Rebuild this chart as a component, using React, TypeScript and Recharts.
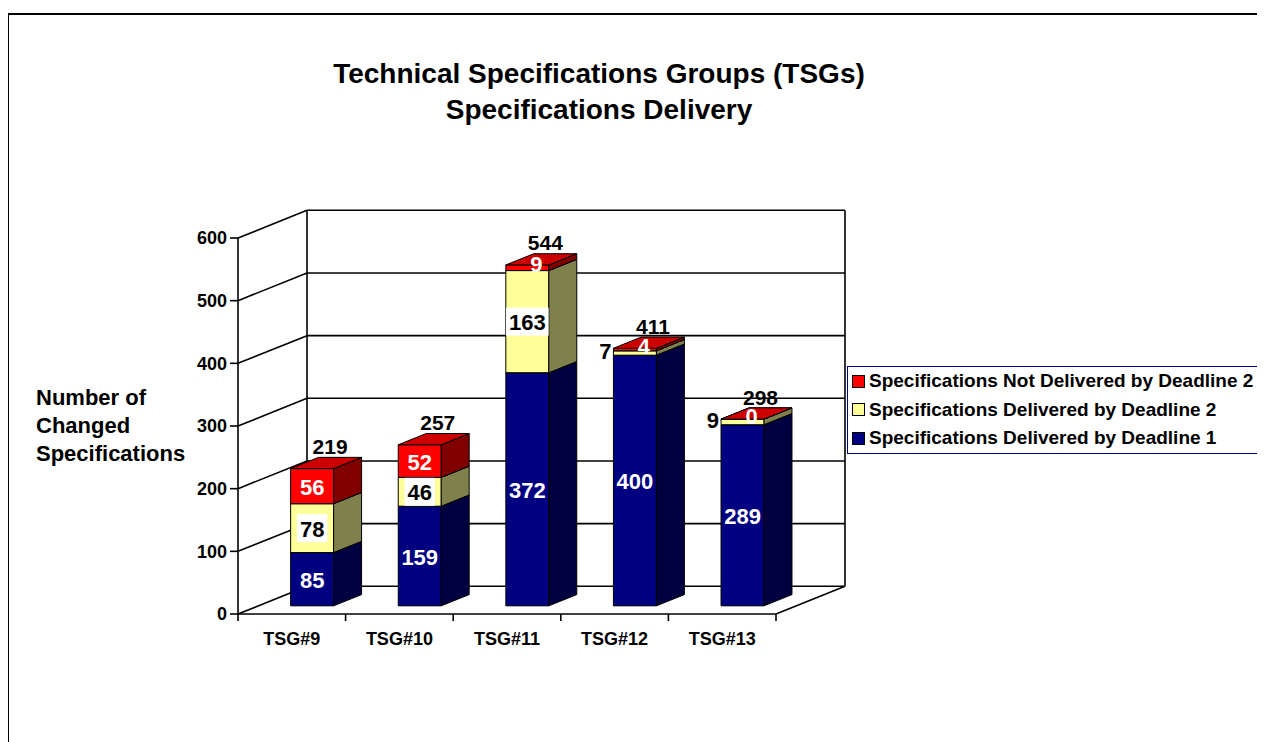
import { BarChart, Bar, XAxis, YAxis, CartesianGrid, Legend, LabelList, usePlotArea } from 'recharts';

const categories = ['TSG#9', 'TSG#10', 'TSG#11', 'TSG#12', 'TSG#13'];
const deliveredD1 = [85, 159, 372, 400, 289];
const deliveredD2 = [78, 46, 163, 7, 9];
const notDeliveredD2 = [56, 52, 9, 4, 0];
const yTicks = [0, 100, 200, 300, 400, 500, 600];

const names: Record<string, string> = {
  d1: 'Specifications Delivered by Deadline 1',
  d2: 'Specifications Delivered by Deadline 2',
  nd: 'Specifications Not Delivered by Deadline 2',
};
const legendOrder = ['nd', 'd2', 'd1'];

const colors: Record<string, { front: string; side: string; top: string; text: string }> = {
  d1: { front: '#000080', side: '#000040', top: '#00005c', text: '#fff' },
  d2: { front: '#ffff99', side: '#80804d', top: '#e0e080', text: '#000' },
  nd: { front: '#ff0000', side: '#800000', top: '#cc0000', text: '#fff' },
};

const values: Record<string, number[]> = { d1: deliveredD1, d2: deliveredD2, nd: notDeliveredD2 };

const data = categories.map((name, i) => ({
  name,
  d1: deliveredD1[i],
  d2: deliveredD2[i],
  nd: notDeliveredD2[i],
  total: deliveredD1[i] + deliveredD2[i] + notDeliveredD2[i],
}));

// fake 3D: the walls go back by WALL, bars sit between FRONT and FRONT+DEPTH of that
const WALL = { dx: 69, dy: -27.7 };
const FRONT = 0.295;
const DEPTH = 0.405;
const F = { x: WALL.dx * FRONT, y: WALL.dy * FRONT };
const D = { x: WALL.dx * DEPTH, y: WALL.dy * DEPTH };

const FONT = '"Liberation Sans", Arial, sans-serif';

function box3d(key: string) {
  const c = colors[key];
  return (props: any) => {
    const { x, y, width, height } = props;
    if (x == null || y == null || !isFinite(y)) return <g />;
    const fx = x + F.x;
    const fy = y + F.y;
    const h = Math.max(height || 0, 0);
    const side = `${fx + width},${fy} ${fx + width + D.x},${fy + D.y} ${fx + width + D.x},${fy + h + D.y} ${fx + width},${fy + h}`;
    const top = `${fx},${fy} ${fx + width},${fy} ${fx + width + D.x},${fy + D.y} ${fx + D.x},${fy + D.y}`;
    return (
      <g stroke="#000" strokeWidth={1} strokeLinejoin="round">
        <rect x={fx} y={fy} width={width} height={h} fill={c.front} />
        <polygon points={side} fill={c.side} />
        <polygon points={top} fill={c.top} />
      </g>
    );
  };
}

function rectOf(props: any) {
  const vb = props.viewBox || {};
  return {
    x: props.x ?? vb.x,
    y: props.y ?? vb.y,
    width: props.width ?? vb.width,
    height: props.height ?? vb.height,
  };
}

function segLabel(key: string) {
  const c = colors[key];
  return (props: any) => {
    const { index } = props;
    const { x, y, width, height } = rectOf(props);
    if (x == null || y == null) return null;
    const v = values[key][index];
    const cx = x + width / 2 + F.x;
    const cy = y + height / 2 + F.y;
    const txt = { fontSize: 22, fontWeight: 'bold', fontFamily: FONT } as const;
    if (height < 14) {
      if (key === 'd2') {
        return (
          <text x={x + F.x - 2} y={cy - 1} textAnchor="end" dominantBaseline="central" fill="#000" style={txt}>
            {v}
          </text>
        );
      }
      return (
        <text x={cx + 9} y={cy - 3} textAnchor="middle" dominantBaseline="central" fill={c.text} style={txt}>
          {v}
        </text>
      );
    }
    const bw = String(v).length * 12.2 + 6;
    return (
      <g>
        {key === 'd2' && <rect x={cx - bw / 2} y={cy - 14} width={bw} height={28} fill="#fff" />}
        <text x={cx} y={cy + 1} textAnchor="middle" dominantBaseline="central" fill={c.text} style={txt}>
          {v}
        </text>
      </g>
    );
  };
}

const totalLabel = (props: any) => {
  const { index } = props;
  const { x, y, width } = rectOf(props);
  if (x == null || y == null) return null;
  return (
    <text
      x={x + width / 2 + F.x + 18}
      y={y + F.y - 22}
      textAnchor="middle"
      dominantBaseline="central"
      fill="#000"
      style={{ fontSize: 21, fontWeight: 'bold', fontFamily: FONT }}
    >
      {data[index].total}
    </text>
  );
};

// one grid line: side wall diagonal + back wall line; first call also draws wall edges
function WallLine(props: any) {
  const { x1, x2, y1, index } = props;
  const area = usePlotArea();
  const bx1 = x1 + WALL.dx;
  const bx2 = x2 + WALL.dx;
  const by = y1 + WALL.dy;
  return (
    <g stroke="#000" strokeWidth={1.6} fill="none">
      <line x1={x1} y1={y1} x2={bx1} y2={by} />
      <line x1={bx1} y1={by} x2={bx2} y2={by} />
      {index === 0 && area && (
        <g>
          <line x1={area.x + WALL.dx} y1={area.y + WALL.dy} x2={area.x + WALL.dx} y2={area.y + area.height + WALL.dy} />
          <line
            x1={area.x + area.width + WALL.dx}
            y1={area.y + WALL.dy}
            x2={area.x + area.width + WALL.dx}
            y2={area.y + area.height + WALL.dy}
          />
          <line
            x1={area.x + area.width}
            y1={area.y + area.height}
            x2={area.x + area.width + WALL.dx}
            y2={area.y + area.height + WALL.dy}
          />
        </g>
      )}
    </g>
  );
}

const CategoryTick = (props: any) => {
  const { x, y, payload, index, visibleTicksCount, width } = props;
  const band = payload && payload.offset ? payload.offset * 2 : width / visibleTicksCount;
  const left = x - band / 2;
  const right = x + band / 2;
  return (
    <g>
      <line x1={left} y1={y} x2={left} y2={y + 7} stroke="#000" strokeWidth={1.6} />
      {index === visibleTicksCount - 1 && <line x1={right} y1={y} x2={right} y2={y + 7} stroke="#000" strokeWidth={1.6} />}
      <text x={x} y={y + 25} textAnchor="middle" dominantBaseline="central" fill="#000" style={{ fontSize: 18, fontWeight: 'bold', fontFamily: FONT }}>
        {payload.value}
      </text>
    </g>
  );
};

const renderLegend = (props: any) => {
  const payload: any[] = props.payload || [];
  const items = legendOrder.map((k) => {
    const p = payload.find((e) => e.dataKey === k);
    return { key: k, name: p?.value ?? names[k], color: p?.color ?? colors[k].front };
  });
  return (
    <div style={{ boxSizing: 'border-box', width: 411, border: '1px solid #000080', padding: '0 0 0 4px', background: '#fff' }}>
      {items.map((it) => (
        <div key={it.key} style={{ display: 'flex', alignItems: 'center', height: 28.5 }}>
          <span style={{ boxSizing: 'border-box', width: 13, height: 13, background: it.color, border: '1px solid #000', marginRight: 4 }} />
          <span style={{ fontSize: 19, fontWeight: 'bold', color: '#000', whiteSpace: 'nowrap' }}>{it.name}</span>
        </div>
      ))}
    </div>
  );
};

export default function App() {
  return (
    <div style={{ position: 'relative', width: 1257, height: 734, fontFamily: FONT, background: '#fff' }}>
      <BarChart
        width={1257}
        height={734}
        data={data}
        barCategoryGap="30%"
        margin={{ top: 230, right: 489, bottom: 98, left: 170 }}
        style={{ fontFamily: FONT }}
      >
        <CartesianGrid vertical={false} horizontal={<WallLine />} />
        <XAxis
          dataKey="name"
          axisLine={{ stroke: '#000', strokeWidth: 1.6 }}
          tickLine={false}
          tickSize={0}
          tickMargin={0}
          height={30}
          tick={<CategoryTick />}
          interval={0}
        />
        <YAxis
          domain={[0, 600]}
          ticks={yTicks}
          width={60}
          axisLine={{ stroke: '#000', strokeWidth: 1.6 }}
          tickLine={{ stroke: '#000', strokeWidth: 1.6 }}
          tickSize={8}
          tickMargin={3}
          tick={{ fontSize: 18, fontWeight: 'bold', fill: '#000' }}
        />
        <Legend
          layout="vertical"
          align="center"
          verticalAlign="middle"
          wrapperStyle={{ left: 839, top: 358, width: 411 }}
          content={renderLegend}
        />
        <Bar dataKey="d1" stackId="a" name={names.d1} fill={colors.d1.front} shape={box3d('d1')} isAnimationActive={false}>
          <LabelList dataKey="d1" content={segLabel('d1')} />
        </Bar>
        <Bar dataKey="d2" stackId="a" name={names.d2} fill={colors.d2.front} shape={box3d('d2')} isAnimationActive={false}>
          <LabelList dataKey="d2" content={segLabel('d2')} />
        </Bar>
        <Bar dataKey="nd" stackId="a" name={names.nd} fill={colors.nd.front} shape={box3d('nd')} isAnimationActive={false}>
          <LabelList dataKey="nd" content={segLabel('nd')} />
          <LabelList dataKey="total" content={totalLabel} />
        </Bar>
      </BarChart>

      {/* frame around the whole picture */}
      <div style={{ position: 'absolute', left: -1, top: 5, width: 1258, height: 729, borderTop: '2px solid #000', borderLeft: '2px solid #000', pointerEvents: 'none' }} />

      <div style={{ position: 'absolute', left: 191, top: 48, width: 800, textAlign: 'center', fontSize: 28, fontWeight: 'bold', lineHeight: '36px' }}>
        Technical Specifications Groups (TSGs)
        <br />
        Specifications Delivery
      </div>

      <div style={{ position: 'absolute', left: 28, top: 376, fontSize: 22, fontWeight: 'bold', lineHeight: '28px' }}>
        Number of
        <br />
        Changed
        <br />
        Specifications
      </div>
    </div>
  );
}
